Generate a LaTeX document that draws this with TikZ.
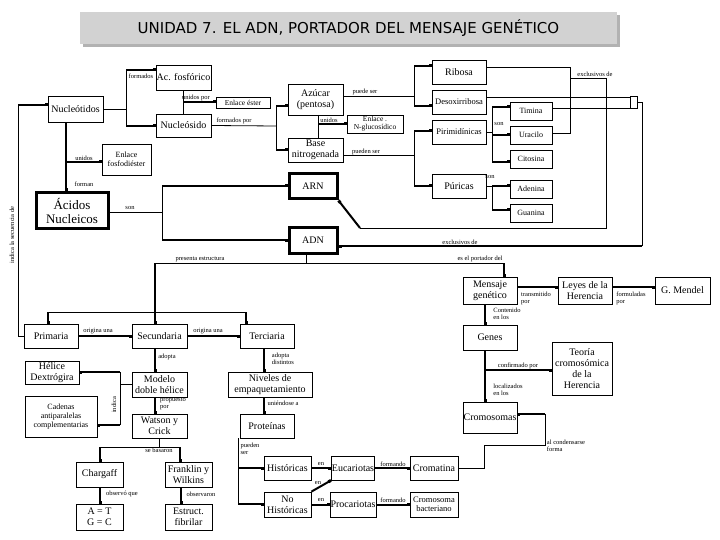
\documentclass[tikz,border=0pt]{standalone}
\usepackage{fontspec}
\setmainfont{Liberation Serif}
\newfontfamily\titlefont{DejaVu Sans}
\usetikzlibrary{arrows.meta}
\begin{document}
\begin{tikzpicture}[x=1pt,y=-1pt,
  bx/.style={draw,line width=0.8pt,fill=white,align=center,inner sep=0.5pt,font=\fontsize{10}{11}\selectfont},
  tk/.style={draw,line width=3pt,fill=white,align=center,inner sep=0.5pt,font=\fontsize{10}{11}\selectfont},
  lb/.style={font=\fontsize{6.5}{7}\selectfont,inner sep=0.5pt,align=left},
  ln/.style={draw,line width=0.8pt},
  ar/.style={ln,-{Square[length=3pt,width=3pt]}},
  th/.style={line width=2pt}]
\useasboundingbox (0,0) rectangle (720,540);
\fill[gray!60] (83,15) rectangle (620,47);
\node[fill=gray!35,minimum width=537,minimum height=32,font=\titlefont\fontsize{15}{17}\selectfont] (title) at (348.5,28) {UNIDAD 7. EL ADN, PORTADOR DEL MENSAJE GENÉTICO};
\newcommand{\bxn}[6][bx]{\node[#1,minimum width=#4-#2,minimum height=#5-#3] (#6) at ({(#2+#4)/2},{(#3+#5)/2})}
\bxn{156}{65}{211}{90}{acf} {Ac. fosfórico};
\bxn{48}{96}{103}{122}{nuc} {Nucleótidos};
\bxn[bx,font=\fontsize{7.5}{8}\selectfont]{216}{97}{270}{108}{est} {Enlace éster};
\bxn{156}{114}{211}{137}{nsd} {Nucleósido};
\bxn{288}{84}{343}{115}{azu} {Azúcar\\(pentosa)};
\bxn[bx,font=\fontsize{7.5}{8}\selectfont]{347}{115}{403}{133}{eng} {Enlace .\\N-glucosídico};
\bxn{288}{138}{343}{162}{bas} {Base\\nitrogenada};
\bxn[bx,font=\fontsize{8}{9}\selectfont]{102}{144}{151}{175}{efd} {Enlace\\fosfodiéster};
\node[tk,minimum width=72,minimum height=36,font=\fontsize{13}{14}\selectfont] (aci) at (72,211) {Ácidos\\Nucleicos};
\node[tk,minimum width=48,minimum height=25] (arn) at (313,186.5) {ARN};
\node[tk,minimum width=48,minimum height=25] (adn) at (313,240.5) {ADN};
\bxn{432}{60}{486}{84}{rib} {Ribosa};
\bxn[bx,font=\fontsize{8.5}{9}\selectfont]{432}{90}{486}{114}{des} {Desoxirribosa};
\bxn[bx,font=\fontsize{8.5}{9}\selectfont]{432}{120}{486}{144}{pir} {Pirimidínicas};
\bxn{432}{174}{486}{198}{pur} {Púricas};
\bxn[bx,font=\fontsize{8}{8}\selectfont]{510}{102}{552}{120}{tim} {Timina};
\bxn[bx,font=\fontsize{8}{8}\selectfont]{510}{126}{552}{144}{ura} {Uracilo};
\bxn[bx,font=\fontsize{8}{8}\selectfont]{510}{150}{552}{168}{cit} {Citosina};
\bxn[bx,font=\fontsize{8}{8}\selectfont]{510}{180}{552}{198}{ade} {Adenina};
\bxn[bx,font=\fontsize{8}{8}\selectfont]{510}{204}{552}{222}{gua} {Guanina};
\node[draw,line width=0.8pt,inner sep=0pt,minimum width=7,minimum height=12] (brk) at (633.5,102) {};
\bxn{463}{277}{517}{304}{men} {Mensaje\\genético};
\bxn{558}{277}{612}{304}{ley} {Leyes de la\\Herencia};
\bxn{655}{277}{710}{304}{gme} {G. Mendel};
\bxn{463}{325}{517}{350}{gen} {Genes};
\bxn{552}{342}{612}{395}{teo} {Teoría\\cromosómica\\de la\\Herencia};
\bxn{463}{402}{517}{433}{crs} {Cromosomas};
\bxn{24}{324}{78}{348}{pri} {Primaria};
\bxn{132}{324}{187}{348}{sec} {Secundaria};
\bxn{240}{324}{294}{348}{ter} {Terciaria};
\bxn{25}{361}{79}{384}{hel} {Hélice\\Dextrógira};
\bxn[bx,font=\fontsize{8}{9}\selectfont]{25}{396}{97}{437}{cad} {Cadenas\\antiparalelas\\complementarias};
\bxn{132}{372}{187}{397}{mod} {Modelo\\doble hélice};
\bxn{132}{414}{187}{438}{wat} {Watson y\\Crick};
\bxn{228}{372}{312}{397}{niv} {Niveles de\\empaquetamiento};
\bxn{240}{414}{294}{438}{pro} {Proteínas};
\bxn{76}{462}{123}{487}{cha} {Chargaff};
\bxn{165}{462}{212}{487}{fra} {Franklin y\\Wilkins};
\bxn{76}{504}{123}{530}{atg} {A = T\\G = C};
\bxn{165}{504}{212}{530}{fib} {Estruct.\\fibrilar};
\bxn{264}{456}{311}{480}{his} {Históricas};
\bxn{264}{492}{311}{517}{nhi} {No\\Históricas};
\bxn{332}{456}{374}{480}{euc} {Eucariotas};
\bxn{332}{492}{374}{517}{prc} {Procariotas};
\bxn{410}{456}{458}{480}{crm} {Cromatina};
\bxn[bx,font=\fontsize{8.5}{9}\selectfont]{410}{492}{458}{517}{cba} {Cromosoma\\bacteriano};
% connectors
\draw[ln] (nuc.east) -- (126,109);
\draw[ln] (126,70) -- (126,126);
\draw[ar,th] (126,70) -- (acf.west|-126,70);
\draw[ar,th] (126,126) -- (nsd.west|-126,126);
\node[lb] (l1) at (141,76) {formados};
\draw[ln] (acf.south) -- (nsd.north);
\draw[ar,th] (183.5,102) -- (est.west|-183.5,102);
\node[lb] (l2) at (196,98) {unidos por};
\draw[ln] (nsd.east) -- (276,126);
\draw[ln] (276,106) -- (276,150);
\draw[ar,th] (276,106) -- (azu.west|-276,106);
\draw[ar,th] (276,150) -- (bas.west|-276,150);
\node[lb] (l3) at (234,121) {formados por};
\draw[ln] (318,115) -- (318,138);
\draw[ar,th] (318,124) -- (eng.west|-318,124);
\node[lb] (l4) at (329,120) {unidos};
\draw[ln] (azu.east|-343,96) -- (414,96);
\draw[ln] (414,66) -- (414,106);
\draw[ar,th] (414,66) -- (rib.west|-414,66);
\draw[ar,th] (414,106) -- (des.west|-414,106);
\node[lb] (l5) at (365,92) {puede ser};
\draw[ln] (bas.east|-343,155) -- (414,155);
\draw[ln] (414,131) -- (414,186);
\draw[ar,th] (414,131) -- (pir.west|-414,131);
\draw[ar,th] (414,186) -- (pur.west|-414,186);
\node[lb] (l6) at (366,152) {pueden ser};
\draw[ln] (pir.east) -- (492,132);
\draw[ln] (492,107) -- (492,162);
\draw[ar,th] (492,107) -- (tim.west|-492,107);
\draw[ar,th] (492,135) -- (ura.west|-492,135);
\draw[ar,th] (492,162) -- (cit.west|-492,162);
\node[lb] (l7) at (499,124) {son};
\draw[ln] (pur.east) -- (492,186);
\draw[ln] (492,186) -- (492,210);
\draw[ar,th] (492,186) -- (ade.west|-492,186);
\draw[ar,th] (492,210) -- (gua.west|-492,210);
\node[lb] (l8) at (490,177) {son};
% exclusivos
\draw[ln] (rib.east|-486,67) -- (570,67) -- (570,133) -- (ura.east|-552,133);
\draw[ln] (570,78) -- (606,78) -- (606,228) -- (360,228);
\draw[ar,th] (360,228) -- (arn.south east);
\node[lb] (l9) at (595,74) {exclusivos de};
\draw[ln] (des.east|-486,97) -- (brk.west|-630,97);
\draw[ln] (tim.east|-552,108) -- (brk.west|-630,108);
\draw[ln] (brk.east) -- (642,102) -- (642,246);
\draw[ar,th] (642,246) -- (adn.east|-642,246);
\node[lb] (l10) at (460,242) {exclusivos de};
% nucleotidos chain
\draw[ar,th] (nuc.south-|66,122) -- (aci.north-|66,193);
\draw[ar,th] (66,162) -- (efd.west|-66,162);
\node[lb] (l11) at (84,158) {unidos};
\node[lb] (l12) at (84,184) {forman};
\draw[ln] (aci.east|-108,212) -- (162,212);
\draw[ln] (162,186) -- (162,240);
\draw[ar,th] (162,186) -- (arn.west|-162,186);
\draw[ar,th] (162,240) -- (adn.west|-162,240);
\node[lb] (l13) at (130,208) {son};
\draw[ln] (pri.west) -- (18,336) -- (18,105);
\draw[ar,th] (18,105) -- (nuc.west|-18,105);
\node[lb,rotate=90] (l14) at (12,235) {indica la secuencia de};
% ADN structures
\draw[ln] (adn.south-|306,253) -- (306,263);
\draw[ln] (155,263) -- (504,263);
\draw[ar,th] (155,263) -- (sec.north-|155,324);
\draw[ar,th] (504,263) -- (men.north-|504,277);
\node[lb] (l15) at (200,259) {presenta estructura};
\node[lb] (l16) at (480,259) {es el portador del};
\draw[ln] (48,312) -- (246,312);
\draw[ar,th] (48,312) -- (pri.north-|48,324);
\draw[ar,th] (246,312) -- (ter.north-|246,324);
\draw[ar,th] (pri.east) -- (sec.west);
\draw[ar,th] (sec.east) -- (ter.west);
\node[lb] (l17) at (98,331) {origina una};
\node[lb] (l18) at (208,331) {origina una};
\draw[ar,th] (sec.south-|155,348) -- (mod.north-|155,372);
\node[lb] (l19) at (167,357) {adopta};
\draw[ln] (mod.west|-132,384) -- (120,384);
\draw[ln] (120,372) -- (120,425);
\draw[ar,th] (120,372) -- (hel.east|-120,372);
\draw[ar,th] (120,425) -- (cad.east|-120,425);
\node[lb,rotate=90] (l20) at (114,405) {indica};
\draw[ar,th] (mod.south-|155,397) -- (wat.north-|155,414);
\node[lb] (l21) at (173,404) {propuesto\\por};
\draw[ln] (wat.south) -- (159.5,447);
\draw[ln] (100,447) -- (180,447);
\draw[ar,th] (100,447) -- (cha.north-|100,462);
\draw[ar,th] (180,447) -- (fra.north-|180,462);
\node[lb] (l22) at (159,450) {se basaron};
\draw[ar,th] (cha.south-|100,487) -- (atg.north-|100,504);
\node[lb] (l23) at (122,494) {observó que};
\draw[ar,th] (fra.south-|181,487) -- (fib.north-|181,504);
\node[lb] (l24) at (201,494) {observaron};
\draw[ar,th] (ter.south-|264,348) -- (niv.north-|264,372);
\node[lb] (l25) at (283,359) {adopta\\distintos};
\draw[ar,th] (niv.south-|264,397) -- (pro.north-|264,414);
\node[lb] (l26) at (283,403) {uniéndose a};
\draw[ln] (pro.south-|238,438) -- (238,504);
\draw[ar,th] (238,468) -- (his.west|-238,468);
\draw[ar,th] (238,504) -- (nhi.west|-238,504);
\node[lb] (l27) at (250,449) {pueden\\ser};
\draw[ar,th] (his.east) -- (euc.west);
\draw[ar,th] (nhi.east) -- (prc.west);
\draw[ar,th] (nhi.north east) -- (euc.south west);
\node[lb] (l28) at (321,464) {en};
\node[lb] (l29) at (321,500) {en};
\node[lb] (l30) at (318,483) {en};
\draw[ar,th] (euc.east) -- (crm.west);
\draw[ar,th] (prc.east) -- (cba.west);
\node[lb] (l31) at (393,464) {formando};
\draw[ln] (crm.east) -- (484,468) -- (484,445) -- (545,445) -- (545,414);
\draw[ar,th] (545,414) -- (crs.east|-545,414);
\node[lb] (l33) at (566,446) {al condensarse\\forma};
\node[lb] (l32) at (393,500) {formando};
% mensaje
\draw[ar,th] (men.east|-517,287) -- (ley.west|-558,287);
\node[lb] (l34) at (536,298) {transmitido\\por};
\draw[ar,th] (ley.east|-612,287) -- (gme.west|-655,287);
\node[lb] (l35) at (631,298) {formuladas\\por};
\draw[ar,th] (men.south-|485,304) -- (gen.north-|485,325);
\node[lb] (l36) at (507,314) {Contenido\\en los};
\draw[ar,th] (gen.south-|485,350) -- (crs.north-|485,402);
\draw[ar,th] (485,370) -- (teo.west|-552,370);
\node[lb] (l37) at (518,366) {confirmado por};
\node[lb] (l38) at (508,390) {localizados\\en los};
\end{tikzpicture}
\end{document}
